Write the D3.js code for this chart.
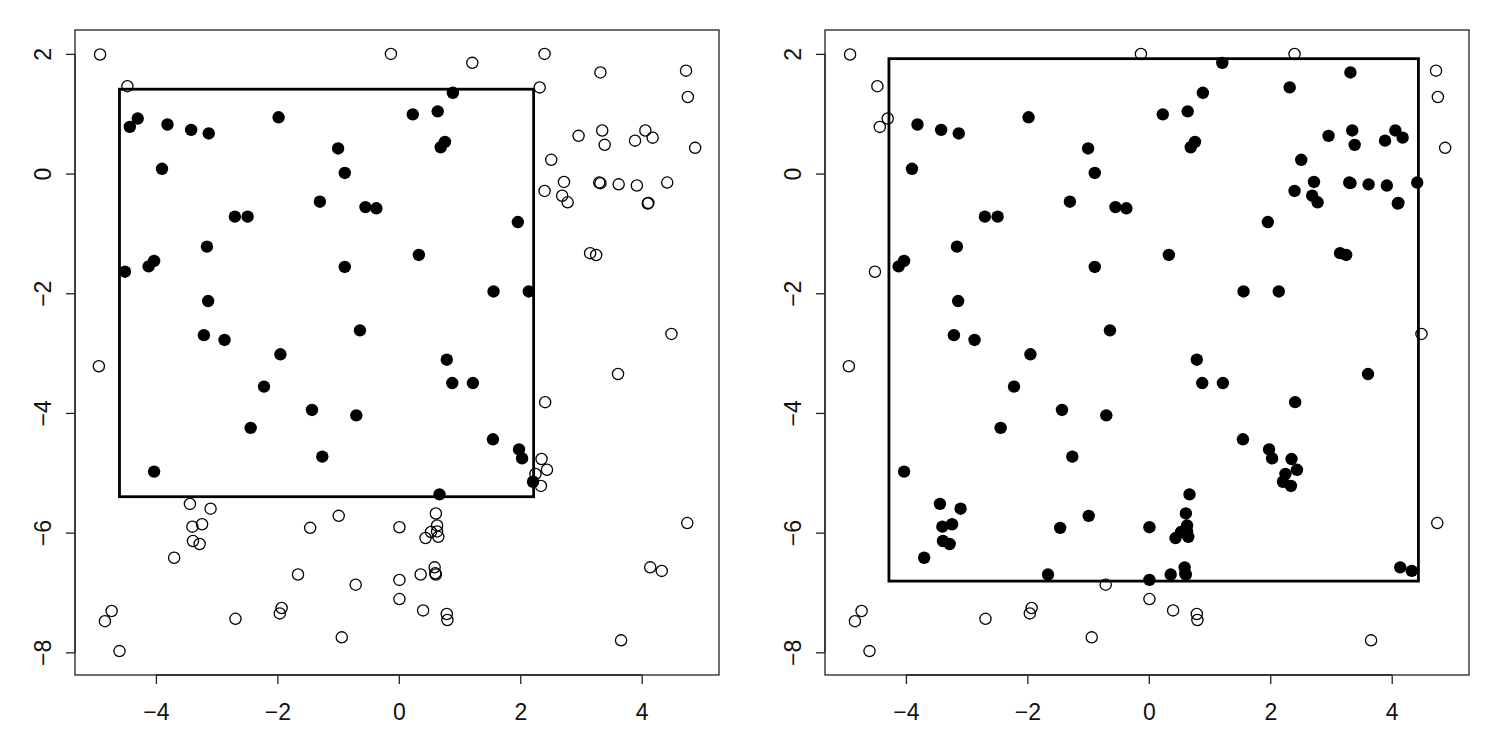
<!DOCTYPE html>
<html>
<head>
<meta charset="utf-8">
<script src="https://cdn.jsdelivr.net/npm/d3@7"></script>
<style>
	body { margin: 0; background: #fff; }
	text { font-family: "Liberation Sans", Arial, sans-serif; }
</style>
</head>
<body>
<svg id="chart" width="1500" height="750"></svg>
<script>
// =============================
// Two scatter panels, same points, points inside the box filled
// =============================

// Point coordinates (shared by both panels)
const xs = [-4.92, -4.47, -4.30, -4.43, -3.81, -3.42, -3.13, -1.98, -3.90, -2.70,
	-2.49, -3.16, -0.13, 1.21, 0.89, 0.23, 0.64, 0.76, 0.69, -1.00,
	-0.89, -1.30, -0.55, -0.37, 0.33, 2.40, 3.32, 4.73, 2.32, 4.76,
	2.96, 3.35, 3.39, 3.89, 4.06, 4.18, 4.88, 2.51, 2.72, 2.40,
	2.69, 2.78, 3.32, 3.30, 3.62, 3.92, 4.42, 4.10, 4.11, 1.96,
	3.15, 3.25, -4.12, -4.03, -4.51, -3.14, -3.21, -2.87, -1.95, -4.94,
	-2.22, -2.44, -0.89, 1.56, -0.64, 0.79, 0.88, 1.22, -1.43, -0.70,
	1.55, -1.26, 2.14, 4.49, 3.61, 2.41, 1.98, 2.03, 2.35, 2.44,
	2.25, 2.21, 2.34, -4.03, -3.44, -3.10, -3.40, -3.24, -3.39, -3.28,
	-3.70, -1.66, -4.73, -4.84, -4.60, -2.69, -1.93, -1.96, 0.67, -0.99,
	-1.46, 0.01, 0.61, 0.63, 0.63, 0.65, 0.53, 0.44, -0.71, 0.01,
	0.36, 0.59, 0.60, 0.61, 0.01, 0.40, 0.79, 0.80, -0.94, 4.75,
	4.14, 4.33, 3.66];

const ys = [1.99, 1.46, 0.92, 0.78, 0.82, 0.73, 0.67, 0.94, 0.08, -0.72,
	-0.72, -1.22, 2.00, 1.85, 1.35, 0.99, 1.04, 0.53, 0.44, 0.42,
	0.01, -0.47, -0.56, -0.58, -1.36, 2.00, 1.69, 1.72, 1.44, 1.28,
	0.63, 0.72, 0.48, 0.55, 0.72, 0.60, 0.43, 0.23, -0.14, -0.29,
	-0.37, -0.48, -0.16, -0.15, -0.18, -0.20, -0.15, -0.50, -0.49, -0.81,
	-1.33, -1.36, -1.55, -1.46, -1.64, -2.13, -2.70, -2.78, -3.02, -3.22,
	-3.56, -4.25, -1.56, -1.97, -2.62, -3.11, -3.50, -3.50, -3.95, -4.04,
	-4.44, -4.73, -1.97, -2.68, -3.35, -3.82, -4.61, -4.76, -4.77, -4.95,
	-5.02, -5.15, -5.22, -4.98, -5.52, -5.60, -5.90, -5.86, -6.14, -6.19,
	-6.42, -6.70, -7.31, -7.48, -7.98, -7.44, -7.26, -7.35, -5.36, -5.72,
	-5.92, -5.91, -5.68, -5.88, -5.98, -6.07, -5.99, -6.09, -6.87, -6.79,
	-6.70, -6.58, -6.68, -6.70, -7.11, -7.30, -7.36, -7.46, -7.75, -5.84,
	-6.58, -6.64, -7.80];

// Selection box for each panel
const boxX0 = [-4.60, -4.28];
const boxX1 = [2.22, 4.44];
const boxY0 = [-5.40, -6.81];
const boxY1 = [1.41, 1.92];

const xTicks = [-4, -2, 0, 2, 4];
const yTicks = [2, 0, -2, -4, -6, -8];

const svg = d3.select("#chart");

const panelWidth = 750,
	  plotLeft = 75,
	  plotWidth = 644,
	  plotTop = 30,
	  plotBottom = 675,
	  tickLen = 9;

const points = xs.map((x, i) => ({x: x, y: ys[i]}));

// R style axis limits: data range plus 4% each side
function padded(vals) {
	const [lo, hi] = d3.extent(vals);
	const pad = (hi - lo) * 0.04;
	return [lo - pad, hi + pad];
}

const xDomain = padded(xs),
	  yDomain = padded(ys);

const minus = d => d < 0 ? "\u2212" + Math.abs(d) : d;

for (let p = 0; p < 2; p++) {
	const left = p * panelWidth + plotLeft;

	const x = d3.scaleLinear().domain(xDomain).range([left, left + plotWidth]);
	const y = d3.scaleLinear().domain(yDomain).range([plotBottom, plotTop]);

	const panel = svg.append("g").attr("class", "panel");

	// Plot frame
	panel.append("rect")
		.attr("x", left)
		.attr("y", plotTop)
		.attr("width", plotWidth)
		.attr("height", plotBottom - plotTop)
		.attr("fill", "none")
		.attr("stroke", "#222")
		.attr("stroke-width", 1.3);

	// Axes
	const xAxis = panel.append("g")
		.attr("transform", `translate(0,${plotBottom})`)
		.call(d3.axisBottom(x).tickValues(xTicks).tickSize(tickLen).tickFormat(minus));

	const yAxis = panel.append("g")
		.attr("transform", `translate(${left},0)`)
		.call(d3.axisLeft(y).tickValues(yTicks).tickSize(tickLen).tickFormat(minus));

	[xAxis, yAxis].forEach(a => {
		a.select(".domain").attr("stroke", "#222").attr("stroke-width", 1.3);
		a.selectAll(".tick line").attr("stroke", "#222").attr("stroke-width", 1.3);
		a.selectAll(".tick text")
			.attr("fill", "#111")
			.style("font-size", "23px");
	});

	// Domain lines in R only span the first to last tick
	xAxis.select(".domain")
		.attr("d", `M${x(xTicks[0])},0H${x(xTicks[xTicks.length - 1])}`);
	yAxis.select(".domain")
		.attr("d", `M0,${y(yTicks[0])}V${y(yTicks[yTicks.length - 1])}`);

	// Tick labels sit parallel to the axis, like R's default
	xAxis.selectAll(".tick text").attr("y", 37).attr("dy", "0.35em");
	yAxis.selectAll(".tick text")
		.attr("x", null)
		.attr("dy", null)
		.attr("text-anchor", "middle")
		.attr("transform", "translate(-24,0) rotate(-90)");

	// Selection box
	panel.append("rect")
		.attr("x", x(boxX0[p]))
		.attr("y", y(boxY1[p]))
		.attr("width", x(boxX1[p]) - x(boxX0[p]))
		.attr("height", y(boxY0[p]) - y(boxY1[p]))
		.attr("fill", "none")
		.attr("stroke", "#000")
		.attr("stroke-width", 2.8);

	const inside = d => d.x >= boxX0[p] && d.x <= boxX1[p] && d.y >= boxY0[p] && d.y <= boxY1[p];

	// Points: filled when inside, open otherwise
	panel.append("g")
		.selectAll("circle")
		.data(points)
		.enter()
		.append("circle")
		.attr("cx", d => x(d.x))
		.attr("cy", d => y(d.y))
		.attr("r", d => inside(d) ? 6.2 : 5.6)
		.attr("fill", d => inside(d) ? "#000" : "none")
		.attr("stroke", "#000")
		.attr("stroke-width", d => inside(d) ? 0 : 1.3);
}
</script>
</body>
</html>
